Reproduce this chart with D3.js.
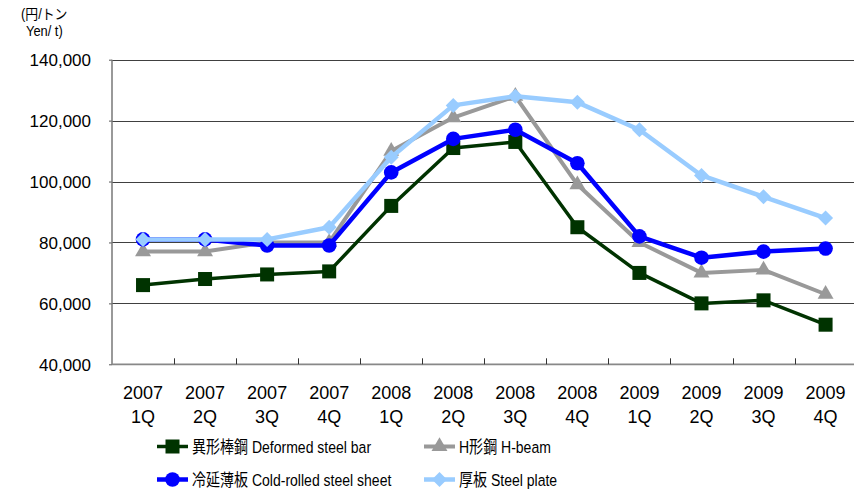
<!DOCTYPE html>
<html>
<head>
<meta charset="utf-8">
<script src="https://cdnjs.cloudflare.com/ajax/libs/d3/7.8.5/d3.min.js"></script>
<style>
  html, body { margin: 0; padding: 0; background: #fff; }
  svg { display: block; }
  text { font-family: "Liberation Sans", Arial, "Noto Sans CJK JP", sans-serif; fill: #000; }
</style>
</head>
<body>
<svg id="chart" width="854" height="492"></svg>
<script>
const quarters = ["1Q","2Q","3Q","4Q","1Q","2Q","3Q","4Q","1Q","2Q","3Q","4Q"];
const years    = ["2007","2007","2007","2007","2008","2008","2008","2008","2009","2009","2009","2009"];
const yTicks   = [40000, 60000, 80000, 100000, 120000, 140000];

const deformedBar   = [66000, 68000, 69500, 70500, 92000, 111000, 113000, 85000, 70000, 60000, 61000, 53000];
const hBeam         = [77000, 77000, 80000, 80000, 110000, 121000, 128000, 99000, 80000, 70000, 71000, 63000];
const coldRolled    = [81000, 81000, 79000, 79000, 103000, 114000, 117000, 106000, 82000, 75000, 77000, 78000];
const steelPlate    = [81000, 81000, 81000, 85000, 108000, 125000, 128000, 126000, 117000, 102000, 95000, 88000];

const seriesNames = ["異形棒鋼 Deformed steel bar", "H形鋼 H-beam", "冷延薄板 Cold-rolled steel sheet", "厚板 Steel plate"];
const seriesColors = ["#003300", "#999999", "#0000ff", "#99ccff"];
const seriesShapes = ["square", "triangle", "circle", "diamond"];
const seriesValues = [deformedBar, hBeam, coldRolled, steelPlate];

const unitLine1 = "(円/トン";
const unitLine2 = "Yen/ t)";

const svg = d3.select("#chart");
const plotL = 112, plotT = 59.7, plotB = 364.3, bandW = 62.05;
const plotR = plotL + bandW * quarters.length;

const idx = d3.range(quarters.length);
const x = d3.scaleBand().domain(idx).range([plotL, plotR]).paddingInner(0).paddingOuter(0);
const y = d3.scaleLinear().domain([40000, 140000]).range([plotB, plotT]);

// gridlines
svg.append("g").selectAll("line").data(yTicks.filter(v => v > 40000)).join("line")
  .attr("x1", plotL).attr("x2", plotR)
  .attr("y1", d => Math.round(y(d)) + 0.5).attr("y2", d => Math.round(y(d)) + 0.5)
  .attr("stroke", "#404040").attr("stroke-width", 1.2);

// y axis
const yAxis = d3.axisLeft(y).tickValues(yTicks).tickSize(3).tickPadding(18)
  .tickFormat(d3.format(","));
const gy = svg.append("g").attr("transform", `translate(${plotL},0)`).call(yAxis);
gy.select(".domain").remove();
gy.selectAll(".tick line").attr("stroke", "#555");
gy.selectAll(".tick text").style("font-size", "17px").attr("fill", "#000")
  .style("font-family", '"Liberation Sans", Arial, sans-serif').attr("dy", "0.36em");
svg.append("line").attr("x1", plotL).attr("x2", plotL).attr("y1", plotT).attr("y2", plotB + 0.5)
  .attr("stroke", "#777").attr("stroke-width", 1.5);

// x axis
svg.append("line").attr("x1", plotL).attr("x2", plotR).attr("y1", plotB).attr("y2", plotB)
  .attr("stroke", "#888").attr("stroke-width", 1.8);
svg.append("g").selectAll("line").data(d3.range(1, quarters.length)).join("line")
  .attr("x1", d => Math.round(plotL + d * bandW) + 0.5).attr("x2", d => Math.round(plotL + d * bandW) + 0.5)
  .attr("y1", plotB).attr("y2", plotB - 6)
  .attr("stroke", "#333").attr("stroke-width", 1);

const xl = svg.append("g").selectAll("text").data(idx).join("text")
  .attr("x", d => x(d) + x.bandwidth() / 2)
  .attr("text-anchor", "middle").style("font-size", "18px");
xl.append("tspan").attr("x", d => x(d) + x.bandwidth() / 2).attr("y", 399).text(d => years[d]);
xl.append("tspan").attr("x", d => x(d) + x.bandwidth() / 2).attr("y", 423).text(d => quarters[d]);

// unit label
svg.append("text").attr("transform", "translate(21,19) scale(0.92,1)").style("font-size", "14px")
  .style("font-family", '"Liberation Sans", "Noto Sans CJK JP", sans-serif').text(unitLine1);
svg.append("text").attr("transform", "translate(26,35.5) scale(0.92,1)").style("font-size", "14px")
  .style("font-family", '"Liberation Sans", sans-serif').text(unitLine2);

// markers
function drawMarker(g, shape, cx, cy, color) {
  if (shape === "square") {
    g.append("rect").attr("x", cx - 7).attr("y", cy - 7).attr("width", 14).attr("height", 14).attr("fill", color);
  } else if (shape === "circle") {
    g.append("circle").attr("cx", cx).attr("cy", cy).attr("r", 7.3).attr("fill", color);
  } else if (shape === "triangle") {
    g.append("path").attr("d", d3.symbol(d3.symbolTriangle, 110)()).attr("transform", `translate(${cx},${cy})`).attr("fill", color);
  } else if (shape === "diamond") {
    g.append("path").attr("d", `M${cx},${cy-7.5}L${cx+7.5},${cy}L${cx},${cy+7.5}L${cx-7.5},${cy}Z`).attr("fill", color);
  }
}

const lineGen = d3.line().x((d, i) => x(i) + x.bandwidth() / 2).y(d => y(d));
const widths = [3.5, 4, 4.5, 4.5];

seriesValues.forEach((vals, s) => {
  const g = svg.append("g");
  g.append("path").attr("d", lineGen(vals)).attr("fill", "none")
    .attr("stroke", seriesColors[s]).attr("stroke-width", widths[s]).attr("stroke-linejoin", "round");
  vals.forEach((v, i) => drawMarker(g, seriesShapes[s], x(i) + x.bandwidth() / 2, y(v), seriesColors[s]));
});

// legend
const legendPos = [[157, 446.5], [424, 446.5], [157, 479.5], [424, 479.5]];
seriesNames.forEach((name, s) => {
  const [lx, ly] = legendPos[s];
  const g = svg.append("g");
  g.append("line").attr("x1", lx).attr("x2", lx + 31).attr("y1", ly).attr("y2", ly)
    .attr("stroke", seriesColors[s]).attr("stroke-width", widths[s]);
  drawMarker(g, seriesShapes[s], lx + 15.5, ly, seriesColors[s]);
  g.append("text").attr("transform", `translate(${lx + 35},${ly + 6}) scale(0.85,1)`).style("font-size", "16.5px")
    .style("font-family", '"Liberation Sans", "Noto Sans CJK JP", sans-serif').text(name);
});
</script>
</body>
</html>
